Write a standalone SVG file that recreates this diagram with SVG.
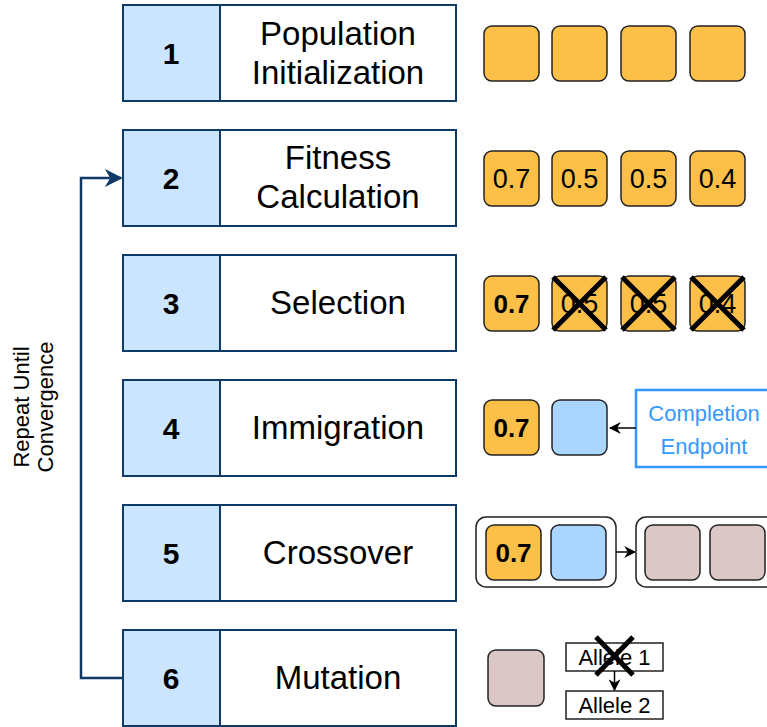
<svg xmlns="http://www.w3.org/2000/svg" width="767" height="727" viewBox="0 0 767 727">
<style>
text{font-family:"Liberation Sans",Arial,sans-serif;}
.num{fill:#cce5ff;stroke:#0f3a68;stroke-width:2;}
.lab{fill:#ffffff;stroke:#0f3a68;stroke-width:2;}
.nt{font-size:30px;font-weight:bold;text-anchor:middle;fill:#000;}
.tt{font-size:33px;text-anchor:middle;fill:#000;}
.or{fill:#fcc048;stroke:#222;stroke-width:1.5;}
.bl{fill:#a9d5ff;stroke:#222;stroke-width:1.5;}
.br{fill:#dbc8c6;stroke:#222;stroke-width:1.5;}
.sq{font-size:27px;text-anchor:middle;fill:#000;}
.sqb{font-size:26px;font-weight:bold;text-anchor:middle;fill:#000;}
.x{stroke:#000;stroke-width:5;}
.grp{fill:#fff;stroke:#222;stroke-width:1.5;}
.al{fill:#fff;stroke:#222;stroke-width:1.5;}
.alt{font-size:22px;text-anchor:middle;fill:#000;}
</style>
<defs>
<marker id="ahn" viewBox="0 0 10 10" refX="9" refY="5" markerWidth="18" markerHeight="18" markerUnits="userSpaceOnUse" orient="auto">
<path d="M0,0 L10,5 L0,10 L3,5 Z" fill="#0f3a68"/>
</marker>
<marker id="ahs" viewBox="0 0 10 10" refX="9" refY="5" markerWidth="12" markerHeight="12" markerUnits="userSpaceOnUse" orient="auto">
<path d="M0,0 L10,5 L0,10 L3,5 Z" fill="#000"/>
</marker>
</defs>

<g id="step1">
<rect class="num" x="123" y="5" width="97" height="96"/>
<rect class="lab" x="220" y="5" width="236" height="96"/>
<text class="nt" x="171" y="64">1</text>
<text class="tt" x="338" y="45">Population</text>
<text class="tt" x="338" y="84">Initialization</text>
</g>
<g id="step2">
<rect class="num" x="123" y="130" width="97" height="96"/>
<rect class="lab" x="220" y="130" width="236" height="96"/>
<text class="nt" x="171" y="189">2</text>
<text class="tt" x="338" y="169">Fitness</text>
<text class="tt" x="338" y="208">Calculation</text>
</g>
<g id="step3">
<rect class="num" x="123" y="255" width="97" height="96"/>
<rect class="lab" x="220" y="255" width="236" height="96"/>
<text class="nt" x="171" y="314">3</text>
<text class="tt" x="338" y="314">Selection</text>
</g>
<g id="step4">
<rect class="num" x="123" y="380" width="97" height="96"/>
<rect class="lab" x="220" y="380" width="236" height="96"/>
<text class="nt" x="171" y="439">4</text>
<text class="tt" x="338" y="439">Immigration</text>
</g>
<g id="step5">
<rect class="num" x="123" y="505" width="97" height="96"/>
<rect class="lab" x="220" y="505" width="236" height="96"/>
<text class="nt" x="171" y="564">5</text>
<text class="tt" x="338" y="564">Crossover</text>
</g>
<g id="step6">
<rect class="num" x="123" y="630" width="97" height="96"/>
<rect class="lab" x="220" y="630" width="236" height="96"/>
<text class="nt" x="171" y="689">6</text>
<text class="tt" x="338" y="689">Mutation</text>
</g>

<g id="loop-label">
<text font-size="22" text-anchor="middle" transform="translate(29,407) rotate(-90)">Repeat Until</text>
<text font-size="22" text-anchor="middle" transform="translate(53,407) rotate(-90)">Convergence</text>
</g>

<g id="pop1">
<rect class="or" x="484" y="26" width="55" height="55" rx="8"/>
<rect class="or" x="552" y="26" width="55" height="55" rx="8"/>
<rect class="or" x="621" y="26" width="55" height="55" rx="8"/>
<rect class="or" x="690" y="26" width="55" height="55" rx="8"/>
</g>
<g id="pop2">
<rect class="or" x="484" y="151" width="55" height="55" rx="8"/>
<rect class="or" x="552" y="151" width="55" height="55" rx="8"/>
<rect class="or" x="621" y="151" width="55" height="55" rx="8"/>
<rect class="or" x="690" y="151" width="55" height="55" rx="8"/>
<text class="sq" x="511.5" y="188">0.7</text>
<text class="sq" x="579.5" y="188">0.5</text>
<text class="sq" x="648.5" y="188">0.5</text>
<text class="sq" x="717.5" y="188">0.4</text>
</g>
<g id="pop3">
<rect class="or" x="484" y="276" width="55" height="55" rx="8"/>
<rect class="or" x="552" y="276" width="55" height="55" rx="8"/>
<rect class="or" x="621" y="276" width="55" height="55" rx="8"/>
<rect class="or" x="690" y="276" width="55" height="55" rx="8"/>
<text class="sqb" x="511.5" y="313">0.7</text>
<text class="sq" x="579.5" y="313">0.5</text>
<text class="sq" x="648.5" y="313">0.5</text>
<text class="sq" x="717.5" y="313">0.4</text>
<path class="x" d="M553,277 L606,330 M606,277 L553,330"/>
<path class="x" d="M622,277 L675,330 M675,277 L622,330"/>
<path class="x" d="M691,277 L744,330 M744,277 L691,330"/>
</g>
<g id="pop4">
<rect class="or" x="484" y="400" width="55" height="55" rx="8"/>
<text class="sqb" x="511.5" y="437">0.7</text>
<rect class="bl" x="552" y="400" width="55" height="55" rx="8"/>
</g>
<g id="completion-endpoint">
<rect x="636" y="390" width="140" height="77" fill="#fff" stroke="#3399ff" stroke-width="2.5"/>
<text x="704" y="421" font-size="22" text-anchor="middle" fill="#3399ff">Completion</text>
<text x="704" y="454" font-size="22" text-anchor="middle" fill="#3399ff">Endpoint</text>
</g>
<g id="pop5">
<rect class="grp" x="476" y="517" width="140" height="70" rx="10"/>
<rect class="or" x="486" y="525" width="55" height="55" rx="8"/>
<text class="sqb" x="513.5" y="562">0.7</text>
<rect class="bl" x="551" y="525" width="55" height="55" rx="8"/>
<rect class="grp" x="636" y="517" width="145" height="70" rx="10"/>
<rect class="br" x="645" y="525" width="55" height="55" rx="8"/>
<rect class="br" x="710" y="525" width="55" height="55" rx="8"/>
</g>
<g id="pop6">
<rect class="br" x="488" y="650" width="56" height="56" rx="8"/>
<rect class="al" x="566" y="643" width="97" height="28"/>
<text class="alt" x="614.5" y="665">Allele 1</text>
<rect class="al" x="566" y="691" width="97" height="28"/>
<text class="alt" x="614.5" y="713">Allele 2</text>
<path class="x" d="M596,637 L633,675 M633,637 L596,675"/>
</g>

<g id="connectors" fill="none">
<path d="M123,678 L81,678 L81,178 L121,178" stroke="#0f3a68" stroke-width="2.5" marker-end="url(#ahn)"/>
<path d="M636,428 L610,428" stroke="#000" stroke-width="1.5" marker-end="url(#ahs)"/>
<path d="M616,552 L635,552" stroke="#000" stroke-width="1.5" marker-end="url(#ahs)"/>
<path d="M614.5,671 L614.5,690" stroke="#000" stroke-width="1.5" marker-end="url(#ahs)"/>
</g>
</svg>
